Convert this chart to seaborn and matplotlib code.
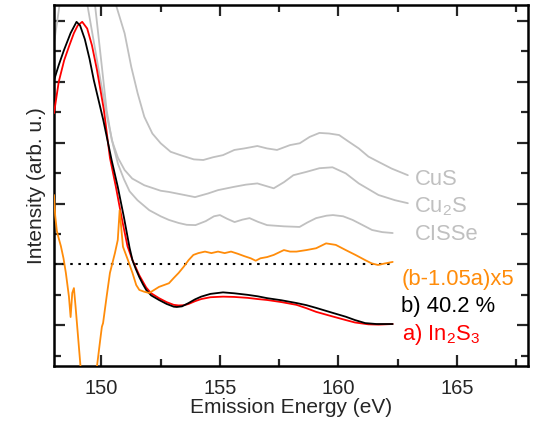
import numpy as np
import pandas as pd
import matplotlib
matplotlib.use("Agg")
import matplotlib.pyplot as plt
import seaborn as sns
from matplotlib.ticker import FixedLocator, NullFormatter

# ---------------- data ----------------
# a) In2S3 (red)
a_x = [148.0, 148.2, 148.43, 148.65, 148.84, 149.0, 149.19, 149.4, 149.6, 149.81,
       150.1, 150.36, 150.61, 150.85, 151.1, 151.31, 151.6, 151.89, 152.1, 152.43,
       152.75, 153.05, 153.26, 153.5, 153.68, 153.95, 154.21, 154.6, 155.13, 155.6,
       156.16, 156.6, 156.99, 157.6, 158.23, 158.65, 159.06, 159.7, 160.31, 160.7,
       161.26, 161.7, 162.29]
a_y = [7.97, 9.0, 9.71, 10.2, 10.6, 10.85, 10.97, 10.75, 10.2, 9.4,
       8.1, 6.5, 5.55, 4.55, 3.6, 3.14, 2.64, 2.24, 2.05, 1.89,
       1.76, 1.67, 1.65, 1.66, 1.70, 1.79, 1.86, 1.92, 1.94, 1.93,
       1.90, 1.86, 1.83, 1.76, 1.67, 1.56, 1.44, 1.30, 1.17, 1.09,
       1.03, 1.02, 1.04]

# b) 40.2 % (black)
b_x = [148.0, 148.2, 148.42, 148.7, 148.95, 149.1, 149.3, 149.5, 149.68, 150.08,
       150.43, 150.69, 150.95, 151.19, 151.31, 151.45, 151.6, 151.75, 151.89, 152.1,
       152.43, 152.75, 153.05, 153.18, 153.4, 153.68, 153.95, 154.21, 154.6, 155.13,
       155.6, 156.16, 156.6, 156.99, 157.6, 158.23, 158.65, 159.06, 159.7, 160.31,
       160.7, 161.13, 161.6, 162.29]
b_y = [9.05, 9.55, 10.04, 10.6, 10.97, 10.85, 10.4, 9.75, 9.05, 7.74,
       6.43, 5.55, 4.55, 3.54, 3.14, 2.85, 2.58, 2.35, 2.16, 1.98,
       1.83, 1.70, 1.61, 1.60, 1.62, 1.73, 1.85, 1.94, 2.03, 2.08,
       2.05, 2.00, 1.95, 1.89, 1.82, 1.73, 1.66, 1.57, 1.42, 1.28,
       1.17, 1.07, 1.04, 1.04]

# (b-1.05a)x5 (orange)
d_x = [148.0, 148.05, 148.12, 148.2, 148.29, 148.4, 148.5, 148.63, 148.7, 148.77,
       148.84, 148.91, 148.98, 149.12, 149.35, 149.6, 149.81, 149.95, 150.02, 150.07,
       150.22, 150.36, 150.57, 150.69, 150.77, 150.91, 151.12, 151.31, 151.47, 151.6,
       151.81, 152.02, 152.43, 152.85, 153.05, 153.26, 153.47, 153.68, 153.88, 154.09,
       154.37, 154.64, 154.92, 155.2, 155.47, 155.75, 156.03, 156.3, 156.51, 156.71,
       156.99, 157.27, 157.7, 157.96, 158.23, 158.65, 159.06, 159.48, 159.89, 160.31,
       160.72, 161.13, 161.41, 161.67, 161.96, 162.29]
d_y = [5.28, 4.6, 4.1, 3.85, 3.6, 3.2, 2.72, 1.94, 1.27, 2.06,
       2.22, 1.61, 0.95, -0.37, -1.6, -1.8, -0.37, 0.52, 0.95, 1.07,
       1.94, 2.72, 3.37, 3.80, 4.78, 3.58, 3.14, 2.72, 2.32, 2.16,
       2.10, 2.06, 2.26, 2.38, 2.55, 2.72, 2.92, 3.14, 3.31, 3.37,
       3.42, 3.37, 3.42, 3.37, 3.42, 3.35, 3.27, 3.20, 3.12, 3.20,
       3.24, 3.31, 3.47, 3.42, 3.42, 3.47, 3.53, 3.69, 3.64, 3.47,
       3.31, 3.14, 3.03, 2.98, 3.03, 3.08]

# CuS (gray)
cus_x = [150.2, 150.64, 150.98, 151.26, 151.53, 151.81, 152.15, 152.5, 152.92, 153.33,
         153.9, 154.3, 154.71, 155.13, 155.61, 156.03, 156.58, 156.99, 157.41, 157.96,
         158.37, 158.79, 159.2, 159.61, 160.03, 160.44, 160.86, 161.27, 161.69, 162.24,
         162.93]
cus_y = [12.8, 11.46, 10.59, 9.49, 8.62, 7.85, 7.30, 6.98, 6.70, 6.59,
         6.45, 6.43, 6.52, 6.59, 6.76, 6.81, 6.89, 6.81, 6.76, 6.92,
         6.98, 7.19, 7.32, 7.30, 7.25, 7.03, 6.81, 6.54, 6.37, 6.15,
         5.93]

# Cu2S (gray)
cu2s_x = [149.3, 149.74, 150.02, 150.22, 150.44, 150.7, 150.98, 151.3, 151.81, 152.5,
          152.85, 153.5, 153.95, 154.5, 154.92, 155.61, 156.1, 156.58, 157.27, 157.7,
          158.1, 158.65, 159.2, 159.75, 160.31, 160.86, 161.69, 162.38, 162.93]
cu2s_y = [12.8, 11.46, 9.49, 8.07, 7.08, 6.5, 6.1, 5.82, 5.6, 5.42,
          5.38, 5.28, 5.21, 5.33, 5.44, 5.55, 5.62, 5.66, 5.50, 5.70,
          5.93, 6.04, 6.16, 6.19, 5.99, 5.66, 5.28, 5.11, 5.01]

# CISSe (gray)
cisse_x = [148.0, 148.12, 148.3, 148.8, 149.41, 149.95, 150.25, 150.5, 150.7, 150.95,
           151.19, 151.52, 152.02, 152.5, 152.85, 153.26, 153.6, 153.97, 154.4, 154.75,
           155.0, 155.3, 155.62, 155.95, 156.25, 156.6, 156.99, 157.7, 158.36, 158.7,
           159.06, 159.5, 159.77, 160.2, 160.6, 161.0, 161.42, 161.85, 162.29]
cisse_y = [10.27, 10.9, 11.9, 12.6, 11.52, 9.1, 7.8, 6.9, 6.3, 5.8,
           5.40, 5.11, 4.78, 4.58, 4.46, 4.36, 4.30, 4.29, 4.42, 4.58,
           4.62, 4.50, 4.39, 4.47, 4.52, 4.40, 4.29, 4.25, 4.23, 4.38,
           4.52, 4.60, 4.62, 4.58, 4.46, 4.30, 4.13, 4.06, 4.03]

baseline_y = 3.0
baseline_x = [148.0, 162.29]

labels = ["CuS", "Cu$_\\mathregular{2}$S", "CISSe", "(b-1.05a)x5", "b) 40.2 %",
          "a) In$_\\mathregular{2}$S$_\\mathregular{3}$"]

x_major = [150, 155, 160, 165]
x_minor = [152.5, 157.5, 162.5, 167.5]
y_major = [1, 3, 5, 7, 9, 11]
y_minor = [0, 2, 4, 6, 8, 10]

# ---------------- style ----------------
sns.set_style("ticks")
plt.rcParams["font.family"] = ["Liberation Sans", "DejaVu Sans"]
plt.rcParams["mathtext.default"] = "regular"

GRAY = "#c0c0c0"
ORANGE = "#ff8c0a"
RED = "#ff0000"

fig = plt.figure(figsize=(5.39, 4.25), dpi=100)
ax = fig.add_axes([0.1002, 0.1388, 0.8794, 0.8492])

def draw(xs, ys, color, lw=1.3, z=2):
    df = pd.DataFrame({"x": xs, "y": ys})
    sns.lineplot(data=df, x="x", y="y", ax=ax, color=color, lw=lw,
                 estimator=None, sort=False, zorder=z)

draw(cus_x, cus_y, GRAY)
draw(cu2s_x, cu2s_y, GRAY)
draw(cisse_x, cisse_y, GRAY)
ax.plot(baseline_x, [baseline_y, baseline_y], color="black", lw=1.5,
        dashes=(1.2, 2.7), zorder=3)
draw(a_x, a_y, RED, z=4)
draw(b_x, b_y, "black", z=5)
draw(d_x, d_y, ORANGE, z=6)

ax.set_xlim(148, 168)
ax.set_ylim(-0.34, 11.52)

ax.xaxis.set_major_locator(FixedLocator(x_major))
ax.xaxis.set_minor_locator(FixedLocator(x_minor))
ax.yaxis.set_major_locator(FixedLocator(y_major))
ax.yaxis.set_minor_locator(FixedLocator(y_minor))
ax.yaxis.set_major_formatter(NullFormatter())
ax.tick_params(which="both", direction="in", top=True, right=True, width=1.6,
               labelsize=14.5)
ax.tick_params(axis="x", which="both", pad=9)
ax.tick_params(which="major", length=8)
ax.tick_params(which="minor", length=5)
for s in ax.spines.values():
    s.set_linewidth(1.8)
    s.set_color("black")

ax.set_xlabel("Emission Energy (eV)", fontsize=15, labelpad=0)
ax.set_ylabel("Intensity (arb. u.)", fontsize=15, labelpad=2)

fs = 15.8
ax.text(163.21, 5.61, labels[0], color=GRAY, fontsize=fs, va="baseline")
ax.text(163.21, 4.72, labels[1], color=GRAY, fontsize=fs, va="baseline")
ax.text(163.21, 3.80, labels[2], color=GRAY, fontsize=fs, va="baseline")
ax.text(162.66, 2.32, labels[3], color=ORANGE, fontsize=fs, va="baseline")
ax.text(162.66, 1.43, labels[4], color="black", fontsize=fs, va="baseline")
ax.text(162.70, 0.51, labels[5], color=RED, fontsize=fs, va="baseline")

fig.savefig("out.png", dpi=100)
